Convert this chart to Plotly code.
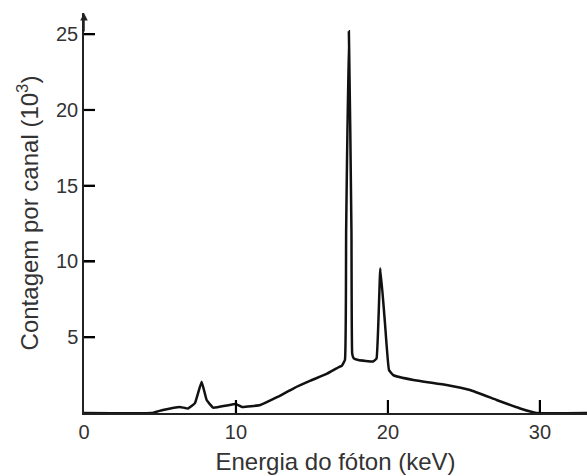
import plotly.graph_objects as go

# Energy (keV) and counts per channel (10^3)
energy = [0, 4.45, 5.2, 6.3, 6.85, 7.3, 7.74, 8.07, 8.5, 9.4, 9.98, 10.4, 11.6, 12.7,
          13.8, 14.9, 16.0, 16.8, 16.95, 17.17, 17.25, 17.43, 17.6, 17.65, 17.75,
          18.05, 19.03, 19.25, 19.5, 19.8, 20.07, 20.35, 21.67, 23.86, 25.4, 27.15,
          28.7, 29.78, 33.1]
counts = [0, 0, 0.2, 0.4, 0.3, 0.65, 2.06, 0.86, 0.35, 0.5, 0.6, 0.4, 0.53, 1.04,
          1.63, 2.13, 2.6, 3.05, 3.1, 3.5, 12.0, 25.2, 12.0, 3.9, 3.6,
          3.5, 3.4, 3.6, 9.56, 6.0, 2.84, 2.5, 2.18, 1.85, 1.52, 0.86,
          0.3, 0, 0]

x_ticks = [0, 10, 20, 30]
y_ticks = [5, 10, 15, 20, 25]

X_RANGE = [0, 33.1]
Y_RANGE = [0, 26.4]
W, H = 587, 476
M = dict(l=84, r=0, t=13, b=63)
px_x = (W - M["l"] - M["r"]) / (X_RANGE[1] - X_RANGE[0])   # px per keV
px_y = (H - M["t"] - M["b"]) / (Y_RANGE[1] - Y_RANGE[0])   # px per count unit
xtick_len = 13 / px_y   # data units
ytick_len = 11 / px_x

fig = go.Figure()

fig.add_trace(go.Scatter(x=energy, y=counts, mode="lines",
                         line=dict(color="#111111", width=2.5, shape="spline", smoothing=0.3),
                         hoverinfo="skip", showlegend=False))

# inward tick marks (one short segment per tick value)
for t in x_ticks[1:]:
    fig.add_trace(go.Scatter(x=[t, t], y=[0, xtick_len], mode="lines",
                             line=dict(color="#000000", width=2.2),
                             hoverinfo="skip", showlegend=False, cliponaxis=False))
for t in y_ticks:
    fig.add_trace(go.Scatter(x=[0, ytick_len], y=[t, t], mode="lines",
                             line=dict(color="#000000", width=2.2),
                             hoverinfo="skip", showlegend=False, cliponaxis=False))

font = dict(family="Liberation Sans, Arial, sans-serif", size=20, color="#333333")

fig.update_layout(
    width=W, height=H,
    margin=M,
    paper_bgcolor="white", plot_bgcolor="white",
    font=font,
    xaxis=dict(range=X_RANGE, tickvals=x_ticks, ticks="inside", ticklen=13, tickwidth=2,
               tickcolor="#000000", showline=True, linecolor="#222",
               linewidth=1.5, showgrid=False, zeroline=False, automargin=False,
               title=dict(text="Energia do fóton (keV)", standoff=11),
               tickfont=font),
    yaxis=dict(range=Y_RANGE, tickvals=y_ticks, ticks="inside", ticklen=11, tickwidth=2,
               tickcolor="#000000", showline=True, linecolor="#222",
               linewidth=1.5, showgrid=False, zeroline=False, automargin=False,
               title=dict(text="Contagem por canal (10<sup>3</sup>)", standoff=11),
               tickfont=font),
)

# arrowhead at top of y axis
fig.add_annotation(x=0, y=1, xref="x", yref="paper", ax=0, ay=20,
                   showarrow=True, arrowhead=2, arrowsize=1, arrowwidth=1.5,
                   arrowcolor="#222", text="")

fig.write_html("out.html", config={"displayModeBar": False},
               post_script="document.body.style.margin='0';document.body.style.overflow='hidden';")
